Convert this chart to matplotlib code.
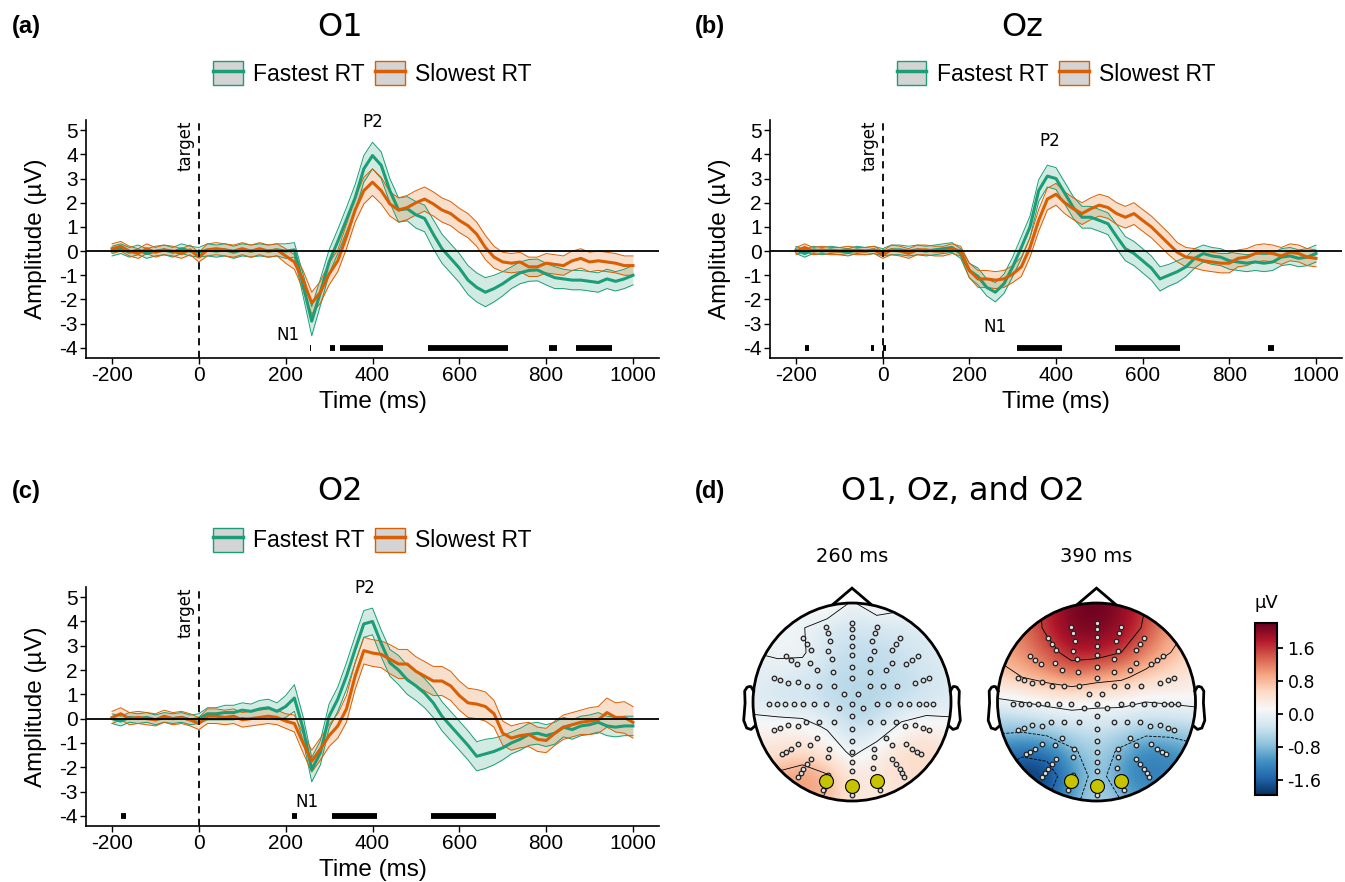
import numpy as np
import matplotlib
matplotlib.use("Agg")
import matplotlib.pyplot as plt
from matplotlib.patches import Patch, Circle, Polygon
from matplotlib.lines import Line2D
from matplotlib.legend_handler import HandlerTuple
from matplotlib.colors import Normalize

# ---------------------------------------------------------------- data
time_ms = np.arange(-200, 1001, 20)

o1_fast = [0.0, 0.1, -0.05, 0.05, -0.1, 0.0, 0.05, -0.05, 0.1, 0.0, -0.05,
           0.05, 0.0, 0.05, -0.05, 0.05, 0.0, 0.05, 0.0, 0.05, 0.0,
           0.05, -1.4, -2.9, -1.7, -0.45, 0.4, 1.3, 2.2, 3.4, 3.95,
           3.55, 2.5, 1.7, 1.75, 1.5, 1.35, 0.7, 0.1, -0.3, -0.7,
           -1.2, -1.5, -1.7, -1.55, -1.35, -1.1, -0.9, -0.8, -0.78, -0.95,
           -1.1, -1.15, -1.2, -1.2, -1.25, -1.3, -1.15, -1.25, -1.15, -1.0]
o1_fast_ci = [0.2, 0.2, 0.2, 0.2, 0.2, 0.2, 0.2, 0.2, 0.2, 0.2, 0.2,
              0.25, 0.25, 0.25, 0.25, 0.25, 0.25, 0.25, 0.25, 0.25, 0.3,
              0.3, 0.45, 0.6, 0.55, 0.5, 0.5, 0.5, 0.55, 0.55, 0.55,
              0.55, 0.5, 0.5, 0.5, 0.55, 0.55, 0.6, 0.6, 0.6, 0.6,
              0.6, 0.6, 0.6, 0.55, 0.5, 0.45, 0.45, 0.45, 0.45, 0.45,
              0.45, 0.4, 0.4, 0.4, 0.4, 0.4, 0.4, 0.4, 0.4, 0.4]
o1_slow = [0.1, 0.2, 0.0, -0.1, 0.1, -0.05, 0.05, 0.0, -0.1, 0.05, -0.25,
           0.05, 0.1, 0.05, 0.0, 0.1, 0.0, 0.1, 0.0, 0.05, -0.2,
           -0.45, -1.2, -2.15, -1.7, -0.95, -0.4, 0.6, 1.7, 2.5, 2.85,
           2.5, 1.95, 1.7, 1.8, 2.0, 2.15, 1.95, 1.7, 1.55, 1.27,
           1.05, 0.7, 0.15, -0.25, -0.45, -0.5, -0.45, -0.65, -0.65, -0.5,
           -0.55, -0.6, -0.4, -0.3, -0.45, -0.4, -0.45, -0.5, -0.6, -0.6]
o1_slow_ci = [0.2, 0.2, 0.2, 0.2, 0.2, 0.2, 0.2, 0.2, 0.2, 0.2, 0.2,
              0.25, 0.25, 0.25, 0.25, 0.25, 0.25, 0.25, 0.25, 0.25, 0.3,
              0.3, 0.4, 0.45, 0.45, 0.45, 0.45, 0.5, 0.5, 0.55, 0.55,
              0.55, 0.5, 0.5, 0.5, 0.5, 0.5, 0.5, 0.5, 0.5, 0.5,
              0.5, 0.5, 0.5, 0.45, 0.4, 0.4, 0.4, 0.4, 0.4, 0.4,
              0.4, 0.4, 0.4, 0.4, 0.4, 0.4, 0.4, 0.4, 0.4, 0.4]

oz_fast = [0.05, -0.1, 0.05, 0.0, 0.05, 0.0, -0.05, 0.05, 0.0, 0.05, -0.05,
           0.05, 0.05, 0.0, 0.05, 0.0, 0.05, 0.1, 0.15, -0.1, -0.8,
           -1.05, -1.5, -1.7, -1.35, -0.65, 0.15, 1.0, 2.5, 3.1, 3.0,
           2.4, 1.8, 1.4, 1.4, 1.27, 1.13, 0.6, 0.1, -0.1, -0.4,
           -0.7, -1.15, -1.0, -0.85, -0.65, -0.3, -0.1, -0.2, -0.25, -0.4,
           -0.45, -0.5, -0.45, -0.5, -0.45, -0.25, -0.2, -0.3, -0.25, -0.1]
oz_fast_ci = [0.15, 0.15, 0.15, 0.15, 0.15, 0.15, 0.15, 0.15, 0.15, 0.15, 0.15,
              0.2, 0.2, 0.2, 0.2, 0.2, 0.2, 0.2, 0.2, 0.2, 0.3,
              0.35, 0.35, 0.4, 0.4, 0.4, 0.45, 0.45, 0.45, 0.45, 0.45,
              0.45, 0.45, 0.45, 0.45, 0.45, 0.45, 0.5, 0.5, 0.5, 0.5,
              0.5, 0.5, 0.45, 0.45, 0.4, 0.4, 0.35, 0.35, 0.35, 0.35,
              0.35, 0.35, 0.35, 0.35, 0.35, 0.35, 0.35, 0.35, 0.35, 0.35]
oz_slow = [0.0, 0.15, 0.0, 0.05, 0.0, 0.0, 0.05, 0.0, 0.0, 0.05, -0.15,
           0.05, 0.0, -0.1, 0.05, 0.05, 0.0, 0.0, 0.1, 0.0, -0.8,
           -1.15, -1.15, -1.2, -1.15, -0.95, -0.65, 0.15, 1.27, 2.15, 2.35,
           2.0, 1.75, 1.55, 1.75, 1.9, 1.8, 1.55, 1.4, 1.55, 1.27,
           1.0, 0.65, 0.3, -0.05, -0.25, -0.3, -0.4, -0.45, -0.5, -0.5,
           -0.3, -0.25, -0.1, -0.05, -0.1, -0.2, -0.05, -0.1, -0.25, -0.3]
oz_slow_ci = [0.15, 0.15, 0.15, 0.15, 0.15, 0.15, 0.15, 0.15, 0.15, 0.15, 0.15,
              0.2, 0.2, 0.2, 0.2, 0.2, 0.2, 0.2, 0.2, 0.2, 0.3,
              0.35, 0.35, 0.35, 0.35, 0.35, 0.4, 0.4, 0.45, 0.45, 0.45,
              0.45, 0.45, 0.45, 0.45, 0.45, 0.45, 0.45, 0.45, 0.45, 0.45,
              0.45, 0.45, 0.45, 0.4, 0.4, 0.4, 0.4, 0.4, 0.4, 0.4,
              0.35, 0.35, 0.35, 0.35, 0.35, 0.35, 0.35, 0.35, 0.35, 0.35]

o2_fast = [0.0, -0.1, 0.05, 0.0, 0.05, -0.05, 0.05, 0.0, 0.05, -0.05, 0.0,
           0.2, 0.2, 0.25, 0.25, 0.35, 0.3, 0.4, 0.45, 0.3, 0.5,
           0.85, -0.4, -2.1, -1.4, 0.1, 0.8, 1.75, 2.85, 3.9, 4.0,
           3.1, 2.3, 2.0, 1.6, 1.35, 1.05, 0.65, 0.1, -0.3, -0.7,
           -1.1, -1.55, -1.45, -1.35, -1.2, -1.0, -0.85, -0.65, -0.6, -0.7,
           -0.6, -0.35, -0.45, -0.3, -0.25, -0.15, -0.3, -0.35, -0.3, -0.3]
o2_fast_ci = [0.2, 0.2, 0.2, 0.2, 0.2, 0.2, 0.2, 0.2, 0.2, 0.2, 0.2,
              0.25, 0.25, 0.3, 0.3, 0.3, 0.3, 0.35, 0.35, 0.35, 0.45,
              0.55, 0.5, 0.5, 0.5, 0.5, 0.5, 0.55, 0.55, 0.55, 0.55,
              0.55, 0.55, 0.6, 0.6, 0.6, 0.6, 0.6, 0.6, 0.6, 0.6,
              0.6, 0.6, 0.6, 0.55, 0.5, 0.45, 0.45, 0.45, 0.45, 0.45,
              0.45, 0.4, 0.4, 0.4, 0.4, 0.4, 0.4, 0.4, 0.4, 0.4]
o2_slow = [0.05, 0.2, 0.0, 0.05, 0.0, -0.05, 0.1, 0.0, 0.05, -0.05, -0.2,
           0.1, 0.1, 0.05, 0.1, -0.05, 0.0, 0.05, 0.1, 0.05, -0.1,
           -0.2, -1.0, -1.75, -1.25, -0.7, -0.3, 0.4, 1.75, 2.8, 2.7,
           2.65, 2.45, 2.25, 2.25, 1.95, 1.75, 1.55, 1.55, 1.35, 0.95,
           0.65, 0.6, 0.5, 0.2, -0.6, -0.8, -0.7, -0.65, -0.85, -0.9,
           -0.6, -0.35, -0.25, -0.15, -0.1, -0.05, 0.25, 0.05, 0.05, -0.15]
o2_slow_ci = [0.25, 0.25, 0.25, 0.25, 0.25, 0.25, 0.25, 0.25, 0.25, 0.25, 0.25,
              0.3, 0.3, 0.3, 0.3, 0.3, 0.3, 0.3, 0.3, 0.3, 0.3,
              0.35, 0.4, 0.45, 0.45, 0.45, 0.5, 0.55, 0.55, 0.55, 0.55,
              0.55, 0.6, 0.6, 0.6, 0.6, 0.6, 0.6, 0.6, 0.6, 0.6,
              0.6, 0.6, 0.6, 0.55, 0.5, 0.5, 0.5, 0.5, 0.5, 0.5,
              0.5, 0.5, 0.5, 0.5, 0.55, 0.55, 0.6, 0.6, 0.65, 0.65]

# significant time windows (ms), drawn at -4 µV
o1_sig_start = [256, 303, 324, 527, 807, 868]
o1_sig_end = [258, 313, 425, 712, 826, 951]
oz_sig_start = [-180, -28, 1, 311, 535, 889]
oz_sig_end = [-169, -19, 7, 413, 687, 902]
o2_sig_start = [-180, 214, 307, 535]
o2_sig_end = [-169, 227, 410, 685]

channels = ["O1", "Oz", "O2"]
conditions = ["Fastest RT", "Slowest RT"]
cond_colors = ["#1b9e77", "#d95f02"]
y_ticks = [-4, -3, -2, -1, 0, 1, 2, 3, 4, 5]
x_ticks = [-200, 0, 200, 400, 600, 800, 1000]
p2_label_pos = [(400, 5.35), (385, 4.55), (382, 5.38)]
n1_label_pos = [(205, -3.45), (258, -3.12), (250, -3.42)]

# topography: 9x9 grid (rows top->bottom, cols left->right) over the head
topo_grid_coords = [-1.0, -0.75, -0.5, -0.25, 0.0, 0.25, 0.5, 0.75, 1.0]
topo_260 = [[0.0, 0.05, 0.1, 0.35, -0.05, 0.3, 0.1, 0.0, -0.05],
            [0.0, 0.0, 0.02, -0.2, -0.3, -0.3, -0.2, -0.1, -0.05],
            [0.0, 0.05, 0.05, -0.3, -0.4, -0.4, -0.35, -0.2, -0.15],
            [-0.1, -0.15, -0.2, -0.4, -0.45, -0.45, -0.4, -0.3, -0.15],
            [-0.15, -0.3, -0.3, -0.4, -0.5, -0.5, -0.4, -0.3, -0.15],
            [0.15, 0.2, 0.15, -0.05, -0.45, -0.3, 0.1, 0.25, 0.1],
            [0.3, 0.4, 0.45, 0.3, -0.1, 0.2, 0.45, 0.55, 0.4],
            [0.8, 0.9, 1.1, 0.85, 0.35, 0.4, 0.5, 0.5, 0.4],
            [0.8, 0.9, 0.95, 0.75, 0.3, 0.3, 0.3, 0.3, 0.3]]
topo_390 = [[1.0, 1.3, 1.7, 2.1, 2.2, 2.0, 1.6, 1.1, 0.8],
            [1.0, 1.2, 1.7, 2.1, 2.1, 2.0, 1.5, 1.0, 0.7],
            [0.9, 1.1, 1.4, 1.8, 1.8, 1.6, 1.2, 0.8, 0.5],
            [0.6, 0.8, 1.0, 1.2, 1.0, 0.9, 0.6, 0.5, 0.3],
            [-0.1, 0.0, 0.1, 0.15, 0.1, 0.1, 0.0, 0.05, 0.1],
            [-0.6, -0.6, -0.45, -0.3, -0.3, -0.35, -0.5, -0.5, -0.4],
            [-1.3, -1.5, -1.4, -0.9, -0.5, -0.9, -1.3, -1.2, -1.0],
            [-1.7, -1.95, -1.9, -1.2, -0.6, -1.1, -1.4, -1.3, -1.2],
            [-1.6, -1.7, -1.6, -1.0, -0.4, -0.8, -1.1, -1.1, -1.0]]
topo_times = ["260 ms", "390 ms"]
topo_vmin, topo_vmax = -1.97, 2.2
topo_levels = [-1.6, -0.8, 0.0, 0.8, 1.6]
cbar_ticks = [-1.6, -0.8, 0.0, 0.8, 1.6]

# electrode positions (head radius = 1)
elec_x = [-0.26, 0.0, 0.25, -0.24, 0.0, 0.23, -0.49, -0.22, 0.0, 0.2, 0.48,
          -0.45, 0.0, 0.44, -0.41, -0.24, 0.22, 0.4, -0.67, -0.62, -0.56,
          -0.42, -0.2, 0.0, 0.18, 0.4, 0.55, 0.61, 0.67, -0.35, -0.19, 0.0,
          0.18, 0.34, -0.79, -0.73, -0.65, -0.55, -0.45, -0.33, -0.18, 0.0,
          0.18, 0.31, 0.45, 0.64, 0.72, 0.78, -0.08, 0.06,
          -0.84, -0.76, -0.68, -0.59, -0.5, -0.38, -0.26, 0.0, 0.25, 0.36,
          0.48, 0.58, 0.68, 0.75, 0.82, -0.13, 0.11,
          -0.79, -0.73, -0.65, -0.55, -0.46, -0.33, -0.18, 0.0, 0.18, 0.31,
          0.44, 0.54, 0.64, 0.72, 0.78, -0.35, 0.0, 0.34,
          -0.71, -0.67, -0.62, -0.55, -0.42, -0.23, 0.0, 0.22, 0.4, 0.55,
          0.61, 0.66, 0.7, -0.41, -0.24, 0.0, 0.22, 0.4,
          -0.55, -0.52, -0.49, -0.45, 0.0, 0.44, 0.48, 0.51, 0.53,
          -0.24, 0.0, 0.21, -0.29, 0.0, 0.28]
elec_y = [0.76, 0.8, 0.76, 0.7, 0.74, 0.7, 0.65, 0.62, 0.66, 0.62, 0.65,
          0.59, 0.57, 0.59, 0.53, 0.52, 0.52, 0.53, 0.46, 0.42, 0.38,
          0.39, 0.43, 0.47, 0.43, 0.39, 0.38, 0.42, 0.46, 0.32, 0.3, 0.35,
          0.3, 0.32, 0.24, 0.22, 0.19, 0.2, 0.16, 0.16, 0.16, 0.24,
          0.16, 0.16, 0.16, 0.19, 0.22, 0.24, 0.08, 0.08,
          -0.02, -0.02, -0.02, -0.02, -0.02, -0.02, -0.02, -0.02, -0.02, -0.02,
          -0.02, -0.02, -0.02, -0.02, -0.02, -0.06, -0.06,
          -0.28, -0.26, -0.23, -0.24, -0.2, -0.2, -0.2, -0.14, -0.2, -0.2,
          -0.2, -0.24, -0.23, -0.26, -0.28, -0.36, -0.27, -0.36,
          -0.53, -0.5, -0.47, -0.42, -0.43, -0.47, -0.39, -0.47, -0.43, -0.42,
          -0.47, -0.5, -0.53, -0.58, -0.56, -0.51, -0.56, -0.58,
          -0.76, -0.72, -0.68, -0.63, -0.61, -0.63, -0.68, -0.72, -0.76,
          -0.74, -0.7, -0.67, -0.89, -0.94, -0.89]
roi_x = [-0.26, 0.0, 0.25]
roi_y = [-0.8, -0.85, -0.8]

# ---------------------------------------------------------------- figure
W, H = 1345, 882
plt.rcParams['font.family'] = ['Liberation Sans', 'DejaVu Sans']
plt.rcParams['axes.unicode_minus'] = False
fig = plt.figure(figsize=(W / 100, H / 100), dpi=100)


def rect(l, t, r, b):
    return [l / W, 1 - b / H, (r - l) / W, (b - t) / H]


def ftext(x, y, s, **kw):
    fig.text(x / W, 1 - y / H, s, ha='center', va='center', **kw)


erp_data = [
    (o1_fast, o1_fast_ci, o1_slow, o1_slow_ci, o1_sig_start, o1_sig_end),
    (oz_fast, oz_fast_ci, oz_slow, oz_slow_ci, oz_sig_start, oz_sig_end),
    (o2_fast, o2_fast_ci, o2_slow, o2_slow_ci, o2_sig_start, o2_sig_end),
]
erp_rects = [rect(86, 120, 659, 358), rect(770, 120, 1342, 358),
             rect(86, 587, 659, 826)]

t = np.asarray(time_ms)
for k, (fast, fci, slow, sci, s0, s1) in enumerate(erp_data):
    ax = fig.add_axes(erp_rects[k])
    series = [(np.asarray(fast), np.asarray(fci)), (np.asarray(slow), np.asarray(sci))]
    for (m, ci), col in zip(series, cond_colors):
        ax.fill_between(t, m - ci, m + ci, color=col, alpha=0.2, lw=0, zorder=2)
        ax.plot(t, m - ci, color=col, lw=0.7, zorder=2.1)
        ax.plot(t, m + ci, color=col, lw=0.7, zorder=2.1)
    for (m, ci), col in zip(series, cond_colors):
        ax.plot(t, m, color=col, lw=2.2, zorder=3)
    ax.axhline(0, color='black', lw=1.3, zorder=4)
    ax.axvline(0, color='black', lw=1.3, ls=(0, (4, 3)), zorder=4)
    ax.hlines([-4] * len(s0), s0, s1, color='black', lw=4.2, zorder=4)
    ax.set_xlim(-260, 1060)
    ax.set_ylim(-4.42, 5.42)
    ax.set_xticks(x_ticks)
    ax.set_yticks(y_ticks)
    ax.tick_params(labelsize=15, length=4, width=1, direction='out', pad=2)
    for sp in ['top', 'right']:
        ax.spines[sp].set_visible(False)
    for sp in ['left', 'bottom']:
        ax.spines[sp].set_linewidth(1.2)
    ax.set_xlabel("Time (ms)", fontsize=17.5)
    ax.set_ylabel("Amplitude (µV)", fontsize=17.5)
    ax.xaxis.set_label_coords(0.5, -0.185)
    ax.xaxis.label.set_va('center')
    ax.yaxis.set_label_coords(-0.088, 0.5)
    ax.yaxis.label.set_va('center')
    ax.annotate("target", xy=(0, 4.35), xytext=(-3, 0), textcoords='offset points',
                rotation=90, ha='right', va='center', fontsize=12,
                family='DejaVu Sans')
    ax.text(*p2_label_pos[k], "P2", ha='center', va='center', fontsize=12,
            family='DejaVu Sans')
    ax.text(*n1_label_pos[k], "N1", ha='center', va='center', fontsize=12,
            family='DejaVu Sans')
    handles = [(Patch(facecolor='#d4d4d4', edgecolor=c, lw=1.0),
                Line2D([], [], color=c, lw=2.5)) for c in cond_colors]
    ax.legend(handles, conditions, handler_map={tuple: HandlerTuple(ndivide=1)},
              loc='center', bbox_to_anchor=(0.5, 1.197), ncol=2, frameon=False,
              fontsize=16.5, handlelength=1.3, handleheight=1.25,
              handletextpad=0.45, columnspacing=0.45, borderpad=0)

# titles and panel letters
ftext(340, 27, channels[0], fontsize=23, family='DejaVu Sans')
ftext(1022, 27, channels[1], fontsize=23, family='DejaVu Sans')
ftext(340, 492, channels[2], fontsize=23, family='DejaVu Sans')
ftext(963, 492, "O1, Oz, and O2", fontsize=23, family='DejaVu Sans')
for lab, (x, y) in zip(["(a)", "(b)", "(c)", "(d)"],
                       [(26, 27), (710, 27), (26, 492), (710, 492)]):
    ftext(x, y, lab, fontsize=17, fontweight='bold')

# ---------------------------------------------------------------- topomaps
norm = Normalize(vmin=topo_vmin, vmax=topo_vmax)
cmap = plt.get_cmap('RdBu_r')
g = np.asarray(topo_grid_coords)
step = g[1] - g[0]
R_px = 99
head_centers = [(852, 702), (1096.5, 702)]
ear_x = np.array([0.994, 1.02, 1.036, 1.06, 1.084, 1.08, 1.094, 1.064, 1.02, 0.978])
ear_y = np.array([0.111, 0.155, 0.157, 0.149, 0.111, -0.011, -0.186, -0.263, -0.277, -0.240])
im = None
for k, (vals, lab) in enumerate(zip([topo_260, topo_390], topo_times)):
    cx, cy = head_centers[k]
    half = 1.3 * R_px
    ax = fig.add_axes(rect(cx - half, cy - half, cx + half, cy + half))
    ax.set_xlim(-1.3, 1.3)
    ax.set_ylim(-1.3, 1.3)
    ax.set_aspect('equal')
    ax.axis('off')
    Z = np.asarray(vals)
    im = ax.imshow(Z, extent=[g[0] - step / 2, g[-1] + step / 2,
                              g[0] - step / 2, g[-1] + step / 2],
                   origin='upper', cmap=cmap, norm=norm,
                   interpolation='bicubic', zorder=1)
    clip = Circle((0, 0), 1.0, transform=ax.transData)
    im.set_clip_path(clip)
    cs = ax.contour(g, g, Z[::-1], levels=topo_levels, colors='black',
                    linewidths=0.6, zorder=2)
    cs.set_clip_path(Circle((0, 0), 1.0, transform=ax.transData))
    ax.add_patch(Circle((0, 0), 1.0, fill=False, lw=2.0, ec='black', zorder=5))
    ax.add_patch(Polygon([[-0.2, 0.98], [0, 1.15], [0.2, 0.98]], closed=False,
                         fill=False, lw=2.0, ec='black', zorder=5))
    ax.plot(ear_x, ear_y, color='black', lw=2.0, zorder=5)
    ax.plot(-ear_x, ear_y, color='black', lw=2.0, zorder=5)
    ax.plot(elec_x, elec_y, 'o', ms=3.3, mfc='#dddddd', mec='#222222', mew=0.9,
            ls='none', zorder=6)
    ax.plot(roi_x, roi_y, 'o', ms=10, mfc='#c6c300', mec='black', mew=0.8,
            ls='none', zorder=7)
    ftext(cx, 557, lab, fontsize=14, family='DejaVu Sans')

cax = fig.add_axes(rect(1255, 623, 1277, 795))
cb = fig.colorbar(im, cax=cax, ticks=cbar_ticks)
cb.ax.set_yticklabels([f"{v:.1f}" for v in cbar_ticks], family='DejaVu Sans')
cb.ax.tick_params(labelsize=12.5, length=4, width=1.3)
cb.outline.set_linewidth(1.5)
ftext(1266, 603, "µV", fontsize=13, family='DejaVu Sans')

fig.savefig("out.png", dpi=100)
